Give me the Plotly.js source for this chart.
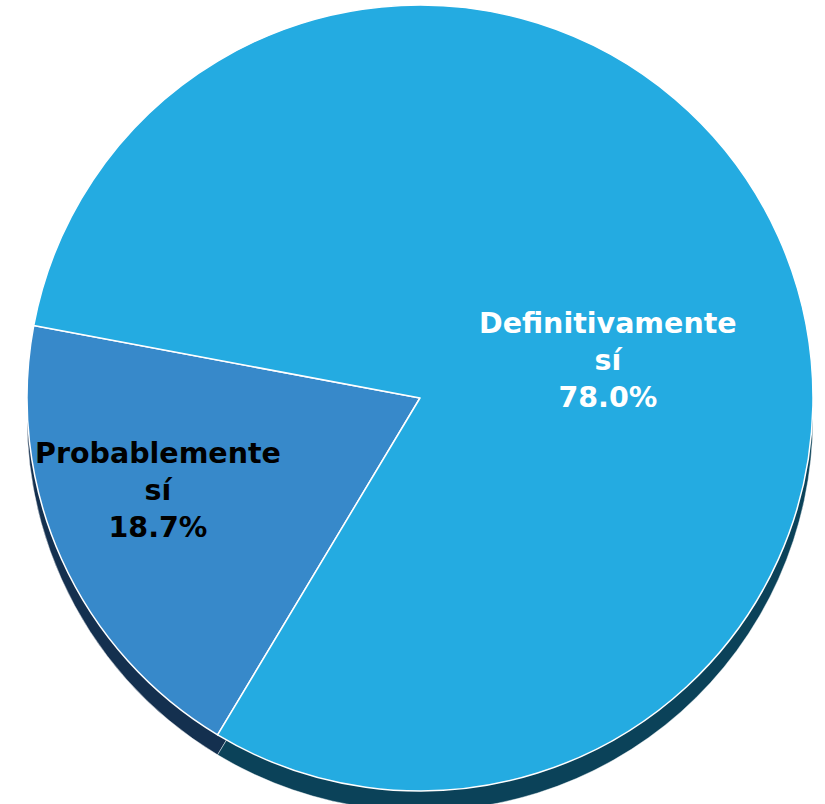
<!DOCTYPE html>
<html>
<head>
<meta charset="utf-8">
<script src="https://cdn.plot.ly/plotly-3.0.1.min.js"></script>
<style>html,body{margin:0;padding:0;overflow:hidden;background:#fff;}#chart{width:825px;height:840px;}</style>
</head>
<body>
<div id="chart"></div>
<script>
// Data
const categories = ['Probablemente sí', 'Definitivamente sí'];
const percentages = [18.7, 78.0];

// Styles
const topColors = ['#3789CA', '#24ABE1'];
const rimColors = ['#14304F', '#0B4259'];
const textColors = ['#000000', '#ffffff'];
const labelPos = [[158, 491], [608, 360]]; // label centres in pixels (layout only)

const W = 825, H = 840;
const cx = 420, cyTop = 398, r = 393, rimDrop = 20;

function dom(cy) {
  const yb = H - cy;
  return {x: [(cx - r) / W, (cx + r) / W], y: [(yb - r) / H, (yb + r) / H]};
}

const labelText = categories.map((c, i) => c.replace(' ', '<br>') + '<br>' + percentages[i].toFixed(1) + '%');

const common = {
  type: 'pie',
  labels: categories,
  values: percentages,
  sort: false,
  direction: 'clockwise',
  rotation: 211,
  hoverinfo: 'skip',
  showlegend: false,
  textinfo: 'none'
};

const rimTrace = Object.assign({}, common, {
  domain: dom(cyTop + rimDrop),
  marker: {colors: rimColors, line: {color: 'rgba(255,255,255,0.45)', width: 1}}
});

const faceTrace = Object.assign({}, common, {
  domain: dom(cyTop),
  marker: {colors: topColors, line: {color: '#ffffff', width: 1.5}}
});

const annotations = labelText.map((t, i) => ({
  text: t,
  xref: 'paper', yref: 'paper',
  x: labelPos[i][0] / W,
  y: (H - labelPos[i][1]) / H,
  xanchor: 'center', yanchor: 'middle',
  showarrow: false,
  align: 'center',
  font: {family: 'DejaVu Sans, Verdana, sans-serif', size: 28.5, color: textColors[i], weight: 'bold'}
}));

Plotly.newPlot('chart', [rimTrace, faceTrace], {
  width: W, height: H,
  margin: {l: 0, r: 0, t: 0, b: 0},
  paper_bgcolor: '#ffffff',
  annotations: annotations
}, {staticPlot: true, displayModeBar: false});
</script>
</body>
</html>
